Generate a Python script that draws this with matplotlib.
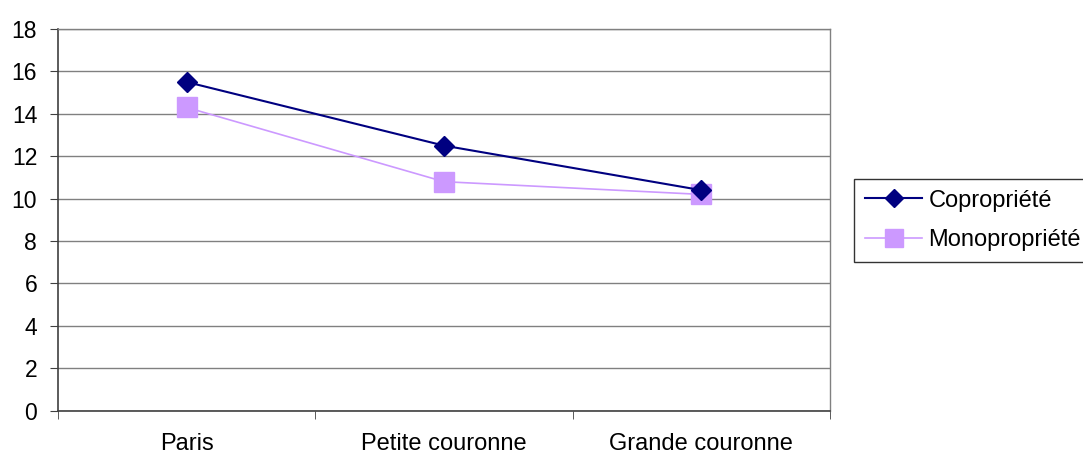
import numpy as np
import matplotlib.pyplot as plt

plt.rcParams['font.family'] = ['Liberation Sans', 'DejaVu Sans']

zones = ['Paris', 'Petite couronne', 'Grande couronne']
copropriete = [15.5, 12.5, 10.4]
monopropriete = [14.3, 10.8, 10.2]
yticks = [0, 2, 4, 6, 8, 10, 12, 14, 16, 18]

fig = plt.figure(figsize=(10.83, 4.55), dpi=100)
ax = fig.add_axes([58 / 1083, 1 - 410.7 / 455, (830 - 58) / 1083, (410.7 - 29) / 455])

x = np.arange(len(zones)) + 0.5
ax.plot(x, copropriete, '-D', color='#000080', linewidth=1.5, markersize=10.5,
        label='Copropriété', zorder=4)
ax.plot(x, monopropriete, '-s', color='#CC99FF', linewidth=1.2, markersize=15,
        label='Monopropriété', zorder=3)

ax.set_xlim(0, 3)
ax.set_ylim(0, 18)
ax.set_yticks(yticks)
ax.grid(axis='y', color='#808080', linewidth=1)
ax.set_axisbelow(True)

# category labels between boundary ticks
ax.set_xticks(x)
ax.set_xticklabels(zones)
ax.set_xticks(np.arange(0, 4), minor=True)
ax.tick_params(axis='x', which='major', length=0, pad=16, labelsize=17)
ax.tick_params(axis='x', which='minor', length=6, direction='out', color='#404040')
ax.tick_params(axis='y', length=6, direction='out', color='#404040', labelsize=16.5, pad=9)

for s in ['left', 'bottom']:
    ax.spines[s].set_color('#404040')
    ax.spines[s].set_linewidth(1.2)
for s in ['top', 'right']:
    ax.spines[s].set_color('#808080')
    ax.spines[s].set_linewidth(1)

leg = ax.legend(loc='upper left', bbox_to_anchor=(854 / 1083, 1 - 179 / 455),
                bbox_transform=fig.transFigure, frameon=True, fancybox=False,
                edgecolor='black', fontsize=17, handlelength=2.45,
                markerscale=0.85, borderpad=0.45, labelspacing=0.75,
                handletextpad=0.25, borderaxespad=0)
leg.get_frame().set_linewidth(1)

fig.savefig('out.png', dpi=100)
